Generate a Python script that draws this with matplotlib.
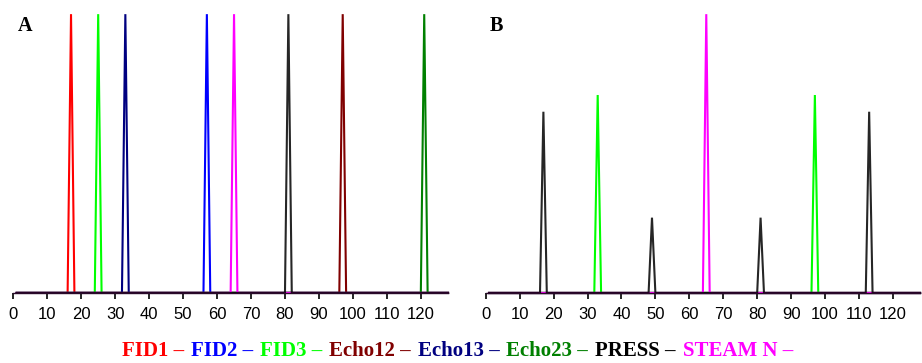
import numpy as np
import matplotlib
matplotlib.use("Agg")
import matplotlib.pyplot as plt
from matplotlib.offsetbox import TextArea, HPacker, AnchoredOffsetbox

# sampling grid of the spectra (points per unit)
x = np.arange(1, 129)

names = ['FID1', 'FID2', 'FID3', 'Echo12', 'Echo13', 'Echo23', 'PRESS', 'STEAM N']
colors = ['#ff0000', '#0000ff', '#00ff00', '#800000', '#000080', '#008000', '#000000', '#ff00ff']

# panel A: peak positions / heights per pathway
peaks_a = [[17], [57], [25], [97], [33], [121], [81], [65]]
heights_a = [[1.0], [1.0], [1.0], [1.0], [1.0], [1.0], [1.0], [1.0]]

# panel B
peaks_b = [[], [], [33, 97], [], [], [], [17, 49, 81, 113], [65]]
heights_b = [[], [], [0.71, 0.71], [], [], [], [0.65, 0.27, 0.27, 0.65], [1.0]]

ticks = np.arange(0, 121, 10)


def spectrum(pos, h):
    y = np.zeros(len(x))
    for p, hh in zip(pos, h):
        y[x == p] = hh
    return y


def draw(ax, peaks, heights, letter):
    # draw order: others, then STEAM, PRESS on top
    order = [0, 1, 2, 3, 4, 5, 7, 6]
    for i in order:
        y = spectrum(peaks[i], heights[i])
        alpha = 0.85 if names[i] == 'PRESS' else 1.0
        ax.plot(x, y, color=colors[i], lw=1.5, alpha=alpha, clip_on=False,
                solid_joinstyle='miter')
    ax.set_xlim(0, 128)
    ax.set_ylim(0, 1)
    ax.set_xticks(ticks)
    ax.set_yticks([])
    for s in ['top', 'left', 'right']:
        ax.spines[s].set_visible(False)
    ax.spines['bottom'].set_linewidth(1.0)
    ax.spines['bottom'].set_color('#2a0a2a')
    ax.tick_params(axis='x', direction='out', length=4, width=1.2, pad=6,
                   labelsize=12)
    for lab in ax.get_xticklabels():
        lab.set_family('Liberation Sans')
    ax.text(0.01, 0.94, letter, transform=ax.transAxes, fontsize=14.5,
            fontweight='bold', family='Liberation Serif', va='baseline')


fig = plt.figure(figsize=(9.22, 3.63), dpi=100)
ax1 = fig.add_axes([0.0144, 0.193, 0.4715, 0.768])
ax2 = fig.add_axes([0.5268, 0.193, 0.4711, 0.768])
draw(ax1, peaks_a, heights_a, 'A')
draw(ax2, peaks_b, heights_b, 'B')

parts = [TextArea(n + ' \u2013', textprops=dict(color=c, fontweight='bold',
                                                 family='Liberation Serif', size=15))
         for n, c in zip(names, colors)]
pack = HPacker(children=parts, align='baseline', pad=0, sep=5)
box = AnchoredOffsetbox(loc='center', child=pack, frameon=False, pad=0,
                        bbox_to_anchor=(0.496, 0.033), bbox_transform=fig.transFigure)
fig.add_artist(box)

fig.savefig('out.png', dpi=100)
